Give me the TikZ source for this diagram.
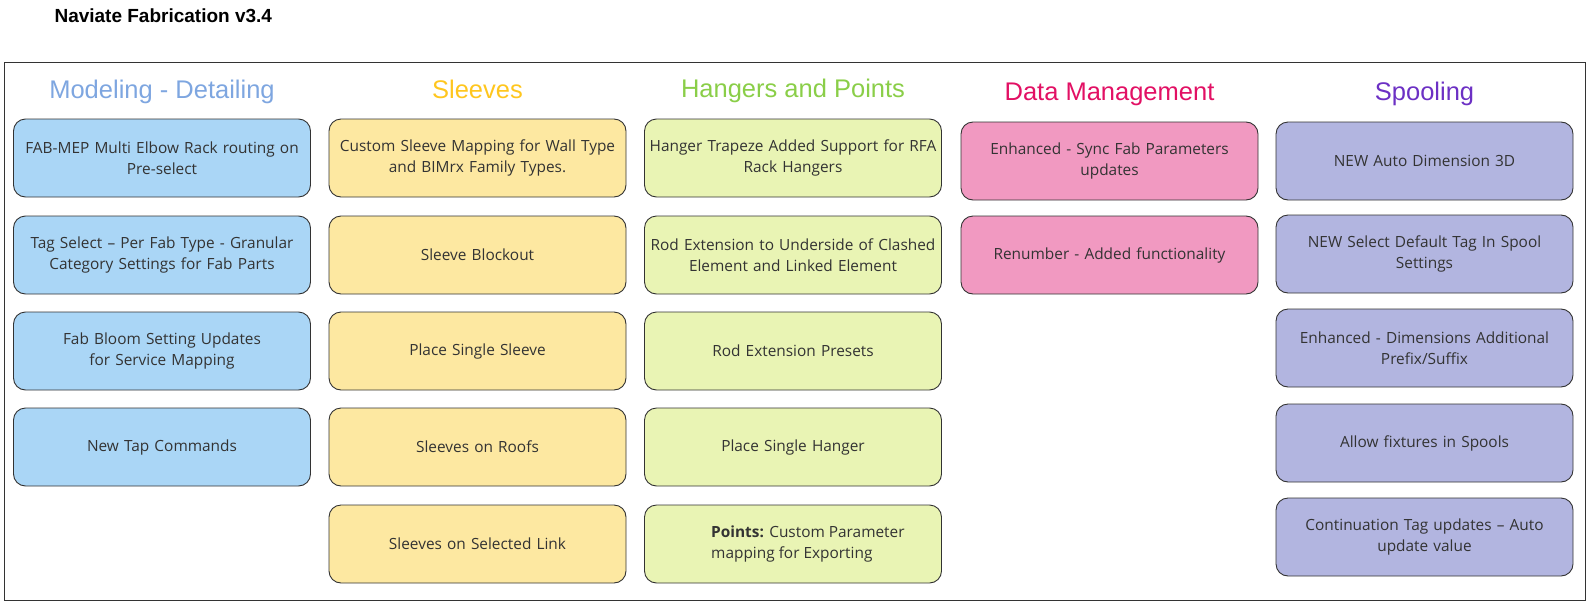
\documentclass[tikz,border=0pt]{standalone}
\usepackage{fontspec}
\setmainfont{Open Sans}
\newfontfamily\headfont{Liberation Sans}
\usepackage{tikz}

\definecolor{mdlfill}{RGB}{170,214,246}
\definecolor{mdltitle}{RGB}{126,166,224}
\definecolor{slvfill}{RGB}{253,232,161}
\definecolor{slvtitle}{RGB}{255,198,30}
\definecolor{hngfill}{RGB}{233,244,180}
\definecolor{hngtitle}{RGB}{138,206,72}
\definecolor{datfill}{RGB}{241,153,193}
\definecolor{dattitle}{RGB}{226,16,100}
\definecolor{splfill}{RGB}{178,181,224}
\definecolor{spltitle}{RGB}{108,48,196}
\definecolor{boxline}{RGB}{51,51,51}
\definecolor{boxtext}{RGB}{51,51,51}

\begin{document}
\begin{tikzpicture}[x=1pt,y=-1pt,
    card/.style={draw=boxline, line width=0.9pt, rounded corners=12pt,
      minimum width=297pt, minimum height=78pt, inner sep=0pt,
      text width=295pt, align=center, text=boxtext,
      font=\fontsize{15.4}{21}\selectfont},
    coltitle/.style={anchor=base, font=\headfont\fontsize{25.5}{28}\selectfont}]
    \useasboundingbox (0,0) rectangle (1593,608);
    \node[anchor=base west, font=\headfont\bfseries\fontsize{19}{22}\selectfont] (head) at (51,22) {Naviate Fabrication v3.4};
    \draw[draw=boxline, line width=1pt] (4,62) rectangle (1585,600);

    \node[coltitle, text=mdltitle] (tmdl) at (162,98) {Modeling - Detailing};
    \node[card, fill=mdlfill] (mdl1) at (162,158) {FAB-MEP Multi Elbow Rack routing on\\Pre-select};
    \node[card, fill=mdlfill] (mdl2) at (162,255) {Tag Select – Per Fab Type - Granular\\Category Settings for Fab Parts};
    \node[card, fill=mdlfill] (mdl3) at (162,351) {Fab Bloom Setting Updates\\for Service Mapping};
    \node[card, fill=mdlfill] (mdl4) at (162,447) {New Tap Commands};

    \node[coltitle, text=slvtitle] (tslv) at (477.5,98) {Sleeves};
    \node[card, fill=slvfill] (slv1) at (477.5,158) {Custom Sleeve Mapping for Wall Type\\and BIMrx Family Types.};
    \node[card, fill=slvfill] (slv2) at (477.5,255) {Sleeve Blockout};
    \node[card, fill=slvfill] (slv3) at (477.5,351) {Place Single Sleeve};
    \node[card, fill=slvfill] (slv4) at (477.5,447) {Sleeves on Roofs};
    \node[card, fill=slvfill] (slv5) at (477.5,544) {Sleeves on Selected Link};

    \node[coltitle, text=hngtitle] (thng) at (793,97) {Hangers and Points};
    \node[card, fill=hngfill] (hng1) at (793,158) {Hanger Trapeze Added Support for RFA\\Rack Hangers};
    \node[card, fill=hngfill] (hng2) at (793,255) {Rod Extension to Underside of Clashed\\Element and Linked Element};
    \node[card, fill=hngfill] (hng3) at (793,351) {Rod Extension Presets};
    \node[card, fill=hngfill] (hng4) at (793,447) {Place Single Hanger};
    \node[card, fill=hngfill] (hng5) at (793,544) {};
    \node[anchor=west, align=left, text=boxtext, inner sep=0pt,
      font=\fontsize{15.4}{21}\selectfont] (hng5txt) at (711,544) {\textbf{Points:} Custom Parameter\\mapping for Exporting};

    \node[coltitle, text=dattitle] (tdat) at (1109.5,100) {Data Management};
    \node[card, fill=datfill] (dat1) at (1109.5,161) {Enhanced - Sync Fab Parameters\\updates};
    \node[card, fill=datfill] (dat2) at (1109.5,255) {Renumber - Added functionality};

    \node[coltitle, text=spltitle] (tspl) at (1424.5,100) {Spooling};
    \node[card, fill=splfill] (spl1) at (1424.5,161) {NEW Auto Dimension 3D};
    \node[card, fill=splfill] (spl2) at (1424.5,254) {NEW Select Default Tag In Spool\\Settings};
    \node[card, fill=splfill] (spl3) at (1424.5,348) {Enhanced - Dimensions Additional\\Prefix/Suffix};
    \node[card, fill=splfill] (spl4) at (1424.5,443) {Allow fixtures in Spools};
    \node[card, fill=splfill] (spl5) at (1424.5,537) {Continuation Tag updates – Auto\\update value};
\end{tikzpicture}
\end{document}
